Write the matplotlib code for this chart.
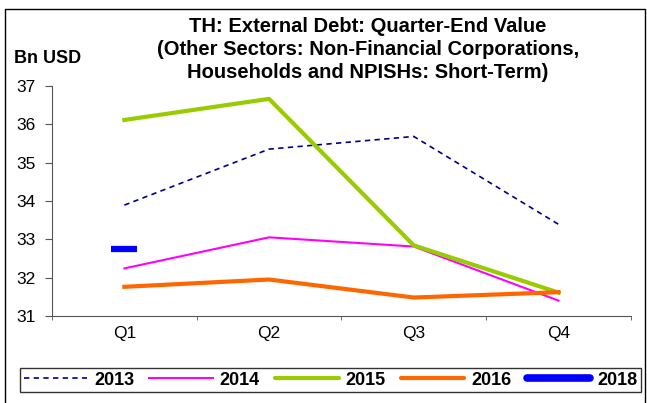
import matplotlib.pyplot as plt
from matplotlib.lines import Line2D
from matplotlib.patches import Rectangle

plt.rcParams['font.family'] = ['Liberation Sans', 'DejaVu Sans']

quarters = ['Q1', 'Q2', 'Q3', 'Q4']
debt_2013 = [33.89, 35.35, 35.68, 33.39]
debt_2014 = [32.24, 33.05, 32.81, 31.40]
debt_2015 = [36.11, 36.66, 32.84, 31.61]
debt_2016 = [31.76, 31.95, 31.48, 31.62]
debt_2018 = [32.74]

fig = plt.figure(figsize=(6.47, 4.03), dpi=100)
ax = fig.add_axes([0.0804, 0.216, 0.8946, 0.571])

x = range(len(quarters))
ax.plot(x, debt_2013, color='#000080', lw=1.2, ls=(0, (3.2, 2.6)), label='2013')
ax.plot(x, debt_2014, color='#FF00FF', lw=1.5, label='2014')
ax.plot(x, debt_2015, color='#99CC00', lw=3, label='2015')
ax.plot(x, debt_2016, color='#FF6600', lw=3, label='2016')
# a single quarter only, so draw it as a short bar marker
ax.plot(range(len(debt_2018)), debt_2018, color='#0000FF', ls='none',
        marker='_', markersize=19, markeredgewidth=4.5, label='2018')

ax.set_xlim(-0.5, 3.5)
ax.set_ylim(31, 37)
ax.set_yticks(range(31, 38))
ax.set_xticks(x)
ax.set_xticklabels(quarters)
ax.set_xticks([-0.5, 0.5, 1.5, 2.5, 3.5], minor=True)
ax.tick_params(axis='x', which='major', length=0, pad=7, labelsize=12.5)
ax.tick_params(axis='x', which='minor', length=3, direction='out', color='#555555')
ax.tick_params(axis='y', length=5, pad=7, direction='out', color='#555555', labelsize=12.5)

for s in ['top', 'right']:
    ax.spines[s].set_visible(False)
for s in ['left', 'bottom']:
    ax.spines[s].set_color('#555555')

fig.text(0.569, 0.957, 'TH: External Debt: Quarter-End Value\n'
         '(Other Sectors: Non-Financial Corporations,\n'
         'Households and NPISHs: Short-Term)',
         ha='center', va='top', fontsize=14.5, fontweight='bold', linespacing=1.27)
fig.text(0.022, 0.856, 'Bn USD', ha='left', va='center', fontsize=13, fontweight='bold')

# legend strip under the plot
handles, labels = ax.get_legend_handles_labels()
handles[-1] = Line2D([], [], color='#0000FF', lw=5.5, solid_capstyle='round')
leg = fig.legend(handles, labels, loc='center', bbox_to_anchor=(0.511, 0.057),
                 ncol=5, frameon=True, fancybox=False, handlelength=3.5,
                 columnspacing=0.85, handletextpad=0.4, borderpad=0.2,
                 borderaxespad=0, prop={'weight': 'bold', 'size': 13})
leg.get_frame().set_edgecolor('black')
leg.get_frame().set_linewidth(1.0)
for line in leg.get_lines()[2:4]:
    line.set_solid_capstyle('round')

# outer frame
fig.patches.append(Rectangle((0.008, -0.05), 0.989, 1.027, transform=fig.transFigure,
                             fill=False, edgecolor='black', lw=1.0))

fig.savefig('out.png', dpi=100)
